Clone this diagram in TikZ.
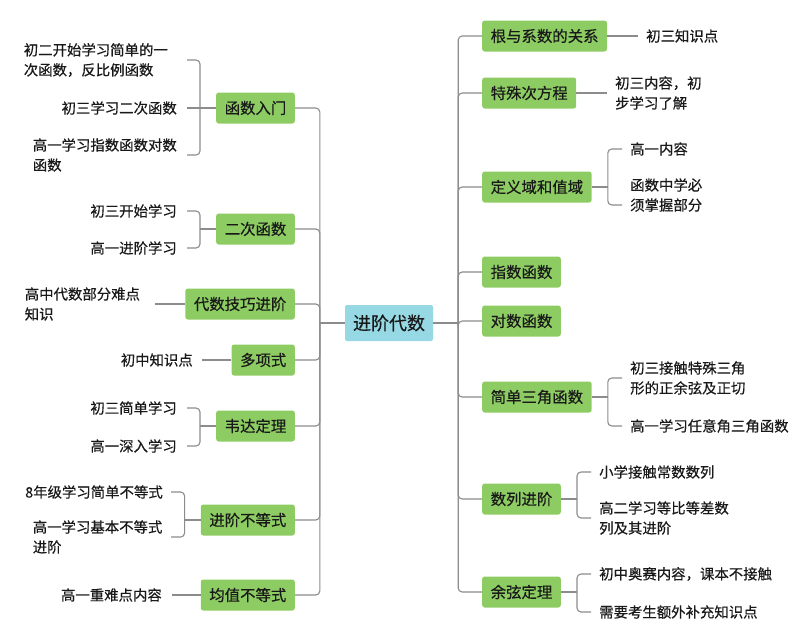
\documentclass[tikz,border=0pt]{standalone}
\usepackage{fontspec}
\newfontfamily\cjk[FakeBold=0.4]{Noto Sans CJK SC}
\usepackage{xcolor}
\definecolor{TopicGreen}{RGB}{141,204,98}
\definecolor{RootCyan}{RGB}{150,217,229}
\definecolor{LinkGray}{RGB}{140,140,140}
\definecolor{InkDark}{RGB}{25,25,25}
\usepackage{tikz}
\usetikzlibrary{positioning,calc}

\begin{document}
\begin{tikzpicture}[x=1pt,y=-1pt,
  root/.style={rectangle,rounded corners=2pt,fill=RootCyan,minimum width=88pt,minimum height=36pt,
               inner xsep=8pt,font=\cjk\fontsize{18}{22}\selectfont,text=InkDark},
  topic/.style={rectangle,rounded corners=2.5pt,fill=TopicGreen,minimum height=31pt,
                inner xsep=8.5pt,inner ysep=0pt,font=\cjk\fontsize{15.4}{18}\selectfont,text=InkDark},
  leafl/.style={anchor=east,align=right,inner xsep=10pt,inner ysep=0pt,
                font=\cjk\fontsize{14.4}{20}\selectfont,text=InkDark},
  leafr/.style={anchor=west,align=left,inner xsep=8pt,inner ysep=0pt,
                font=\cjk\fontsize{14.4}{20}\selectfont,text=InkDark},
  link/.style={draw=LinkGray,line width=1.1pt,rounded corners=4pt}
]
  \useasboundingbox (0,0) rectangle (794,638);
  \node[root] (root) at (389,323) {进阶代数};

  % left topics
  \node[topic,anchor=east] (hsrm) at (295,108) {函数入门};
  \node[topic,anchor=east] (ecsh) at (295,229) {二次函数};
  \node[topic,anchor=east] (dsjq) at (295,304) {代数技巧进阶};
  \node[topic,anchor=east] (dxs)  at (295,360) {多项式};
  \node[topic,anchor=east] (wdd)  at (295,426) {韦达定理};
  \node[topic,anchor=east] (jjbd) at (295,520) {进阶不等式};
  \node[topic,anchor=east] (jzbd) at (295,595) {均值不等式};

  % right topics
  \node[topic,anchor=west] (gxs)  at (482,36)  {根与系数的关系};
  \node[topic,anchor=west] (tsfc) at (482,93)  {特殊次方程};
  \node[topic,anchor=west] (dyz)  at (482,187) {定义域和值域};
  \node[topic,anchor=west] (zshs) at (482,272) {指数函数};
  \node[topic,anchor=west] (dshs) at (482,321) {对数函数};
  \node[topic,anchor=west] (sjhs) at (482,397) {简单三角函数};
  \node[topic,anchor=west] (sljj) at (482,499) {数列进阶};
  \node[topic,anchor=west] (yxdl) at (482,592) {余弦定理};

  % left leaves
  \node[leafl,text width=153pt,align=left] (hsrm1) at (187,60) {初二开始学习简单的一\\次函数，反比例函数};
  \node[leafl] (hsrm2) at (187,108) {初三学习二次函数};
  \node[leafl,text width=144pt,align=left] (hsrm3) at (187,155) {高一学习指数函数对数\\函数};
  \node[leafl] (ecsh1) at (187,211) {初三开始学习};
  \node[leafl] (ecsh2) at (187,248) {高一进阶学习};
  \node[leafl,text width=120pt,align=left] (dsjq1) at (155,304) {高中代数部分难点\\知识};
  \node[leafl,inner xsep=9pt] (dxs1) at (202,360) {初中知识点};
  \node[leafl] (wdd1) at (187,408) {初三简单学习};
  \node[leafl] (wdd2) at (187,446) {高一深入学习};
  \node[leafl,inner xsep=8pt] (jjbd1) at (171,492) {8年级学习简单不等式};
  \node[leafl,inner xsep=8pt,text width=130pt,align=left] (jjbd2) at (171,537) {高一学习基本不等式\\进阶};
  \node[leafl] (jzbd1) at (172,595) {高一重难点内容};

  % right leaves
  \node[leafr] (gxs1)  at (638,36)  {初三知识点};
  \node[leafr] (tsfc1) at (607,93)  {初三内容，初\\步学习了解};
  \node[leafr] (dyz1)  at (622,149) {高一内容};
  \node[leafr] (dyz2)  at (622,195) {函数中学必\\须掌握部分};
  \node[leafr] (sjhs1) at (622,378) {初三接触特殊三角\\形的正余弦及正切};
  \node[leafr] (sjhs2) at (622,426) {高一学习任意角三角函数};
  \node[leafr] (sljj1) at (591,472) {小学接触常数数列};
  \node[leafr] (sljj2) at (591,518) {高二学习等比等差数\\列及其进阶};
  \node[leafr] (yxdl1) at (591,574) {初中奥赛内容，课本不接触};
  \node[leafr] (yxdl2) at (591,612) {需要考生额外补充知识点};

  % trunks
  \draw[link] (root.west) -- ++(-25,0) coordinate (lj);
  \foreach \t in {hsrm,ecsh,dsjq,dxs,wdd,jjbd,jzbd}
    \draw[link] (lj) |- (\t.east);
  \draw[link] (root.east) -- ++(25,0) coordinate (rj);
  \foreach \t in {gxs,tsfc,dyz,zshs,dshs,sjhs,sljj,yxdl}
    \draw[link] (rj) |- (\t.west);

  % left leaf links
  \draw[link] (hsrm.west) -- (hsrm2.east);
  \draw[link] (hsrm1.east) -| ([xshift=-16pt]hsrm.west) |- (hsrm3.east);
  \draw[link] (ecsh.west) -- ++(-16,0);
  \draw[link] (ecsh1.east) -| ([xshift=-16pt]ecsh.west) |- (ecsh2.east);
  \draw[link] (dsjq.west) -- (dsjq1.east);
  \draw[link] (dxs.west) -- (dxs1.east);
  \draw[link] (wdd.west) -- ++(-16,0);
  \draw[link] (wdd1.east) -| ([xshift=-16pt]wdd.west) |- (wdd2.east);
  \draw[link] (jjbd.west) -- ++(-16,0);
  \draw[link] (jjbd1.east) -| ([xshift=-16pt]jjbd.west) |- (jjbd2.east);
  \draw[link] (jzbd.west) -- (jzbd1.east);

  % right leaf links
  \draw[link] (gxs.east) -- (gxs1.west);
  \draw[link] (tsfc.east) -- (tsfc1.west);
  \draw[link] (dyz.east) -- ++(16,0);
  \draw[link] (dyz1.west) -| ([xshift=16pt]dyz.east) |- ([yshift=-10pt]dyz2.west);
  \draw[link] (sjhs.east) -- ++(16,0);
  \draw[link] (sjhs1.west) -| ([xshift=16pt]sjhs.east) |- (sjhs2.west);
  \draw[link] (sljj.east) -- ++(16,0);
  \draw[link] (sljj1.west) -| ([xshift=16pt]sljj.east) |- (sljj2.west);
  \draw[link] (yxdl.east) -- ++(16,0);
  \draw[link] (yxdl1.west) -| ([xshift=16pt]yxdl.east) |- (yxdl2.west);
\end{tikzpicture}
\end{document}
